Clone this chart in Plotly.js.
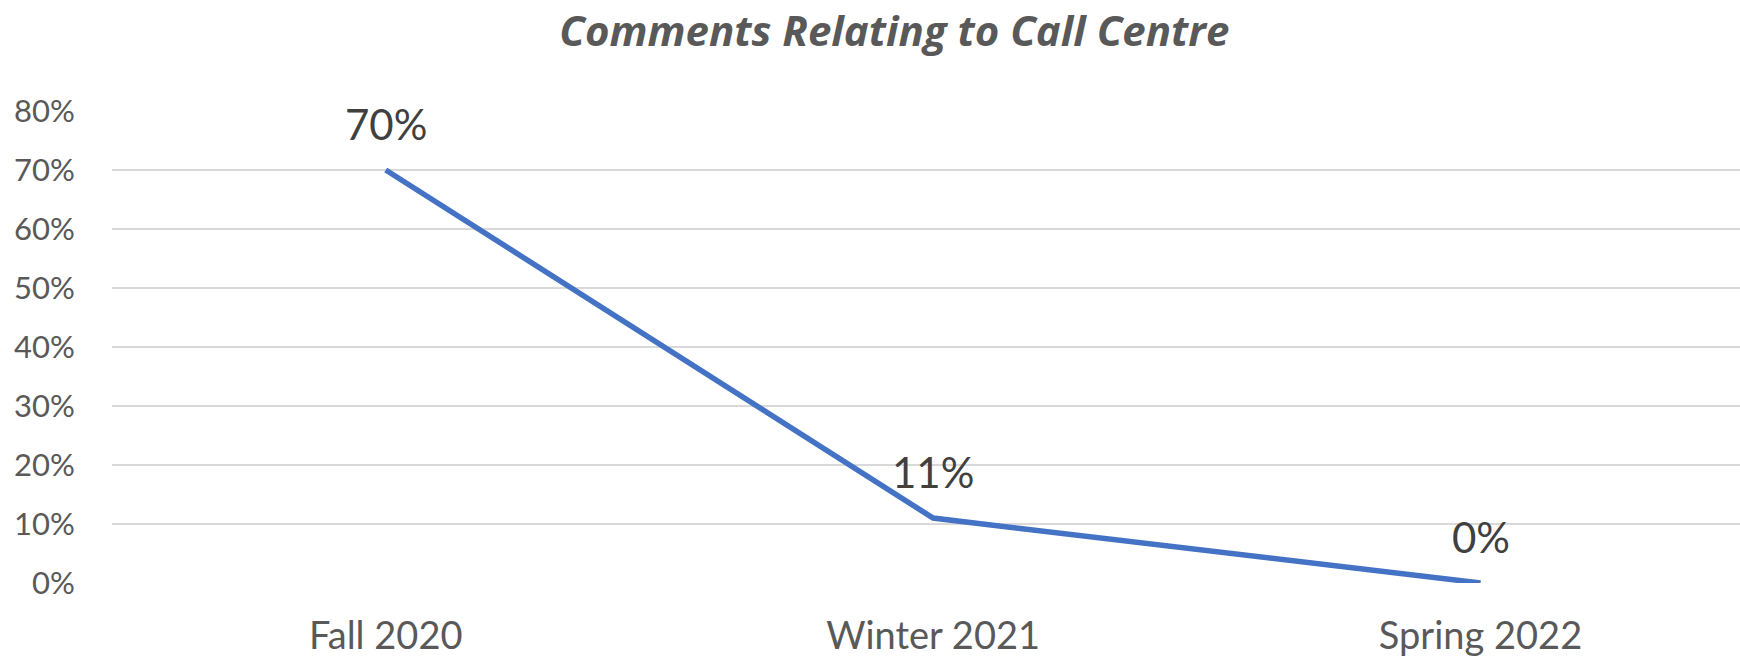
<!DOCTYPE html>
<html>
<head>
<meta charset="utf-8">
<script src="https://cdn.plot.ly/plotly-3.0.1.min.js"></script>
<style>html,body{margin:0;padding:0;background:#fff;}#chart{width:1740px;height:656px;}</style>
</head>
<body>
<div id="chart"></div>
<script>
const categories = ["Fall 2020", "Winter 2021", "Spring 2022"];
const values = [0.70, 0.11, 0.00];
const valueLabels = ["70%", "11%", "0%"];
const yTickValues = [0, 0.1, 0.2, 0.3, 0.4, 0.5, 0.6, 0.7, 0.8];
const yTickLabels = ["0%", "10%", "20%", "30%", "40%", "50%", "60%", "70%", "80%"];
const chartTitle = "Comments Relating to Call Centre";

const FONT = "Lato, Carlito, Calibri, 'Open Sans', sans-serif";
const TITLE_FONT = "'Open Sans', Lato, sans-serif";

const trace = {
  x: categories,
  y: values,
  type: "scatter",
  mode: "lines",
  line: {color: "#4472C4", width: 5.5},
  cliponaxis: false,
  hoverinfo: "skip"
};

const annotations = categories.map((c, i) => ({
  x: c, y: values[i], xref: "x", yref: "y",
  text: valueLabels[i], showarrow: false,
  yanchor: "middle", xanchor: "center", yshift: 46,
  font: {family: FONT, size: 42, color: "#404040"}
}));

const layout = {
  width: 1740, height: 656,
  margin: {l: 112, r: 0, t: 111, b: 73},
  paper_bgcolor: "#ffffff", plot_bgcolor: "#ffffff",
  showlegend: false,
  title: {
    text: "<b><i>" + chartTitle + "</i></b>",
    x: 0.514, xanchor: "center", y: 0.952, yanchor: "middle",
    font: {family: TITLE_FONT, size: 42, color: "#595959"}
  },
  xaxis: {
    type: "category",
    range: [-0.5, 2.474],
    showgrid: false, zeroline: false, showline: false,
    ticks: "outside", ticklen: 19, tickcolor: "rgba(0,0,0,0)",
    tickfont: {family: FONT, size: 38, color: "#595959"},
    fixedrange: true
  },
  yaxis: {
    range: [0, 0.8],
    tickvals: yTickValues, ticktext: yTickLabels,
    showgrid: true, gridcolor: "#D9D9D9", gridwidth: 1.5,
    zeroline: false, showline: false,
    ticks: "outside", ticklen: 30, tickcolor: "rgba(0,0,0,0)",
    tickfont: {family: FONT, size: 31, color: "#595959"},
    fixedrange: true
  },
  annotations: annotations
};

Plotly.newPlot("chart", [trace], layout, {displayModeBar: false, staticPlot: true});
</script>
</body>
</html>
